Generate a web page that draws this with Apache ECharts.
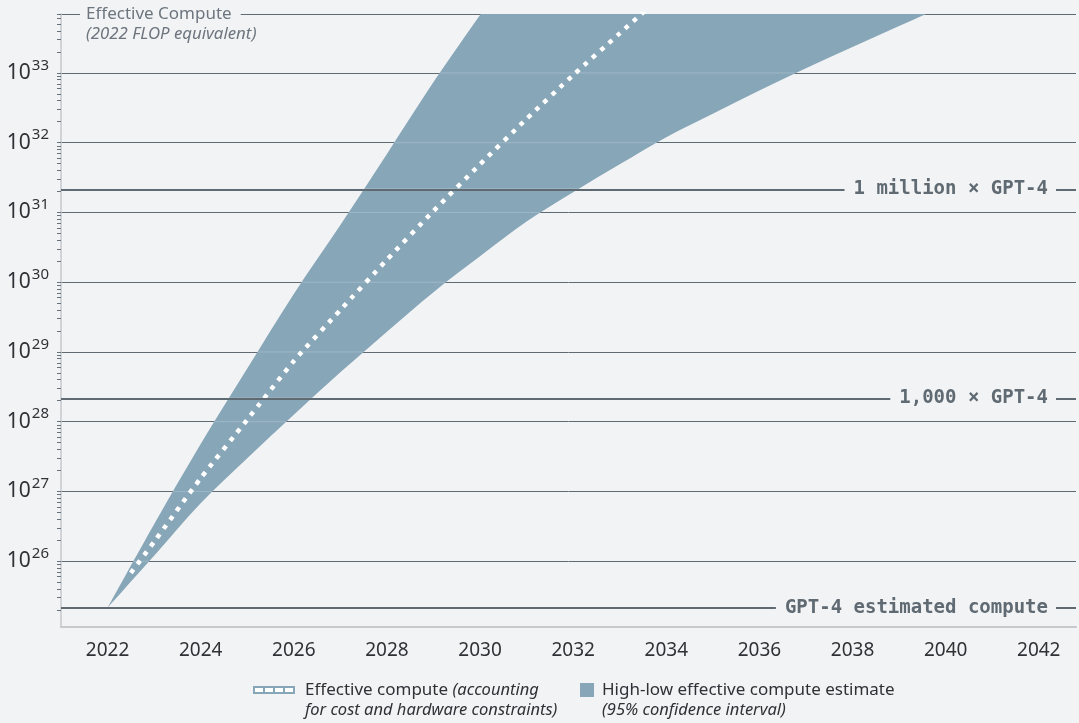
<!DOCTYPE html>
<html>
<head>
<meta charset="utf-8">
<script src="https://cdn.jsdelivr.net/npm/echarts@6/dist/echarts.min.js"></script>
<style>
  html, body { margin: 0; padding: 0; background: #f2f3f5; }
  #chart { width: 1079px; height: 723px; }
</style>
</head>
<body>
<div id="chart"></div>
<script>
// Upper edge of the 95% confidence band (2022 FLOP equivalent)
const upperYears = [2022, 2023, 2024, 2025, 2026, 2027, 2028, 2029, 2030, 2031];
const upperValues = [2.15e25, 3.4e26, 4.8e27, 5.8e28, 6.8e29, 6.6e30, 6.9e31, 7.4e32, 6.8e33, 6.0e34];

// Lower edge of the band
const lowerYears = [2022, 2023, 2024, 2025, 2026, 2027, 2028, 2029, 2030, 2031,
                    2032, 2033, 2034, 2035, 2036, 2037, 2038, 2039, 2040];
const lowerValues = [2.15e25, 1.2e26, 6.8e26, 3.0e27, 1.26e28, 5.1e28, 1.95e29, 7.2e29, 2.35e30, 7.4e30,
                     1.95e31, 4.9e31, 1.2e32, 2.6e32, 5.6e32, 1.17e33, 2.35e33, 4.7e33, 9.3e33];

// Central estimate of effective compute
const medianYears = [2022.5, 2023, 2024, 2025, 2026, 2027, 2028, 2029, 2030, 2031, 2032, 2033, 2034];
const medianValues = [6.8e25, 1.9e26, 1.55e27, 1.07e28, 7.4e28, 4.0e29, 2.1e30, 1.05e31, 4.9e31, 2.2e32, 9.3e32, 3.7e33, 1.45e34];

// Horizontal reference levels
const referenceValues = [2.15e25, 2.15e28, 2.15e31];
const referenceLabels = ['GPT-4 estimated compute', '1,000 \u00d7 GPT-4', '1 million \u00d7 GPT-4'];

// Axis labels and ranges
const yearLabels = [2022, 2024, 2026, 2028, 2030, 2032, 2034, 2036, 2038, 2040, 2042];
const yearMin = 2021, yearMax = 2042.8;
const computeMin = 1.14e25, computeMax = 7e33;
const tickExponents = [25, 26, 27, 28, 29, 30, 31, 32, 33];
const tickMultipliers = [1, 2, 3, 4, 5, 6, 7, 8, 9];

const BG = '#f2f3f5';
const BAND = '#87a6b8';
const GRID = '#5f6a72';
const TEXT = '#2e3236';
const MUTED = '#6d767e';
const FONT = '"Noto Sans", sans-serif';

const logTickValues = [];
tickExponents.forEach(e => tickMultipliers.forEach(m => {
  const v = m * Math.pow(10, e);
  if (v >= computeMin && v <= computeMax) logTickValues.push(v);
}));
const powerValues = tickExponents.map(e => Math.pow(10, e)).filter(v => v >= computeMin && v <= computeMax);

// Catmull-Rom spline through pixel points, written as cubic Bezier path commands
function splineSegments(pts) {
  let d = '';
  for (let i = 0; i < pts.length - 1; i++) {
    const p0 = pts[Math.max(i - 1, 0)], p1 = pts[i], p2 = pts[i + 1], p3 = pts[Math.min(i + 2, pts.length - 1)];
    const c1 = [p1[0] + (p2[0] - p0[0]) / 6, p1[1] + (p2[1] - p0[1]) / 6];
    const c2 = [p2[0] - (p3[0] - p1[0]) / 6, p2[1] - (p3[1] - p1[1]) / 6];
    d += ' C' + c1[0] + ' ' + c1[1] + ' ' + c2[0] + ' ' + c2[1] + ' ' + p2[0] + ' ' + p2[1];
  }
  return d;
}

const chart = echarts.init(document.getElementById('chart'), null, { renderer: 'canvas' });

const option = {
  animation: false,
  backgroundColor: BG,
  textStyle: { fontFamily: FONT },
  grid: { left: 61, right: 0, top: 14, bottom: 96 },
  xAxis: {
    type: 'value',
    min: yearMin,
    max: yearMax,
    interval: 1,
    axisLine: { show: true, lineStyle: { color: '#c6cacd', width: 2 } },
    axisTick: { show: false },
    splitLine: { show: false },
    axisLabel: {
      margin: 14,
      fontSize: 19,
      color: TEXT,
      fontFamily: FONT,
      showMinLabel: true,
      showMaxLabel: true,
      formatter: v => (yearLabels.indexOf(Math.round(v)) >= 0 && Math.abs(v - Math.round(v)) < 1e-6) ? String(Math.round(v)) : ''
    }
  },
  yAxis: [
    {
      type: 'log',
      logBase: 10,
      min: computeMin,
      max: computeMax,
      axisLine: { show: false },
      axisTick: { show: false },
      splitLine: { show: true, lineStyle: { color: GRID, width: 1 } },
      axisLabel: {
        margin: 12,
        showMinLabel: true,
        showMaxLabel: true,
        formatter: v => {
          const e = Math.log10(v);
          const r = Math.round(e);
          return Math.abs(e - r) < 1e-6 ? '{b|10}{e|' + r + '}' : '';
        },
        rich: {
          b: { fontSize: 21, color: TEXT, fontFamily: FONT },
          e: { fontSize: 15, color: TEXT, fontFamily: FONT, padding: [0, 0, 15, 1] }
        }
      }
    },
    {
      type: 'log',
      logBase: 10,
      min: computeMin,
      max: computeMax,
      position: 'left',
      axisLine: { show: true, lineStyle: { color: '#c4c8cc', width: 1.5 } },
      axisTick: { show: true, length: 4, customValues: logTickValues, lineStyle: { color: '#66717a', width: 1 } },
      axisLabel: { show: false },
      splitLine: { show: false }
    }
  ],
  series: [
    {
      // reference levels, kept beneath the band
      type: 'line',
      data: [],
      z: 1,
      silent: true,
      markLine: {
        silent: true,
        symbol: 'none',
        label: { show: false },
        lineStyle: { color: GRID, width: 2, type: 'solid' },
        data: referenceValues.map(v => ({ yAxis: v }))
      }
    },
    {
      // confidence band between upper and lower edges, with faint grid showing through
      type: 'custom',
      z: 2,
      clip: true,
      silent: true,
      data: [[upperYears[0], upperValues[0]]],
      renderItem: (params, api) => {
        const up = upperYears.map((y, i) => api.coord([y, upperValues[i]]));
        const lo = lowerYears.map((y, i) => api.coord([y, lowerValues[i]])).reverse();
        const d = 'M' + up[0][0] + ' ' + up[0][1] + splineSegments(up) +
                  ' L' + lo[0][0] + ' ' + lo[0][1] + splineSegments(lo) + ' Z';
        const cs = params.coordSys;
        const lines = powerValues.map(v => ({ v: v, w: 1 })).concat(referenceValues.map(v => ({ v: v, w: 2 })));
        return {
          type: 'group',
          children: [
            { type: 'path', shape: { pathData: d }, style: { fill: BAND } },
            {
              type: 'group',
              clipPath: { type: 'path', shape: { pathData: d } },
              children: lines.map(l => {
                const py = api.coord([yearMin, l.v])[1];
                return {
                  type: 'line',
                  shape: { x1: cs.x, y1: py, x2: cs.x + cs.width, y2: py },
                  style: { stroke: 'rgba(255,255,255,0.2)', lineWidth: l.w }
                };
              })
            }
          ]
        };
      }
    },
    {
      // central estimate, white dotted
      type: 'line',
      z: 3,
      clip: true,
      silent: true,
      showSymbol: false,
      smooth: 0.2,
      data: medianYears.map((y, i) => [y, medianValues[i]]),
      lineStyle: { color: '#ffffff', width: 4.5, type: [4.5, 6.5], cap: 'butt' }
    }
  ]
};

chart.setOption(option);

// Labels sitting on the reference lines, placed through the y scale
const refLabelGraphics = referenceValues.map((v, i) => ({
  type: 'text',
  x: 1056,
  y: chart.convertToPixel({ yAxisIndex: 0 }, v),
  z: 10,
  style: {
    text: referenceLabels[i],
    align: 'right',
    verticalAlign: 'middle',
    font: 'bold 19px "DejaVu Sans Mono", monospace',
    fill: '#5f6a72',
    backgroundColor: BG,
    padding: [2, 8, 2, 9]
  }
}));

// Legend swatches and text
const legendGraphics = [
  { type: 'rect', shape: { x: 253, y: 686, width: 42, height: 8 }, style: { fill: BAND } },
  ...[0, 1, 2, 3].map(k => ({ type: 'rect', shape: { x: 255 + k * 10, y: 688, width: 8, height: 4 }, style: { fill: '#ffffff' } })),
  {
    type: 'text', x: 305, y: 680,
    style: {
      text: 'Effective compute {i|(accounting}\n{i|for cost and hardware constraints)}',
      font: '17px ' + FONT, fill: TEXT, lineHeight: 20, verticalAlign: 'top',
      rich: { i: { fontStyle: 'italic', fontSize: 16.5, fontFamily: FONT, fill: TEXT, lineHeight: 20 } }
    }
  },
  { type: 'rect', shape: { x: 580, y: 683, width: 14, height: 14 }, style: { fill: BAND } },
  {
    type: 'text', x: 602, y: 680,
    style: {
      text: 'High-low effective compute estimate\n{i|(95% confidence interval)}',
      font: '17px ' + FONT, fill: TEXT, lineHeight: 20, verticalAlign: 'top',
      rich: { i: { fontStyle: 'italic', fontSize: 16.5, fontFamily: FONT, fill: TEXT, lineHeight: 20 } }
    }
  }
];

// Axis title breaking the top gridline
const titleGraphics = [
  {
    type: 'text', x: 80, y: 14, z: 10,
    style: {
      text: 'Effective Compute', font: '17px ' + FONT, fill: MUTED,
      verticalAlign: 'middle', backgroundColor: BG, padding: [2, 9, 2, 6]
    }
  },
  {
    type: 'text', x: 86, y: 34, z: 10,
    style: { text: '(2022 FLOP equivalent)', font: 'italic 16.8px ' + FONT, fill: MUTED, verticalAlign: 'middle' }
  }
];

chart.setOption({ graphic: [...refLabelGraphics, ...legendGraphics, ...titleGraphics] });
</script>
</body>
</html>
